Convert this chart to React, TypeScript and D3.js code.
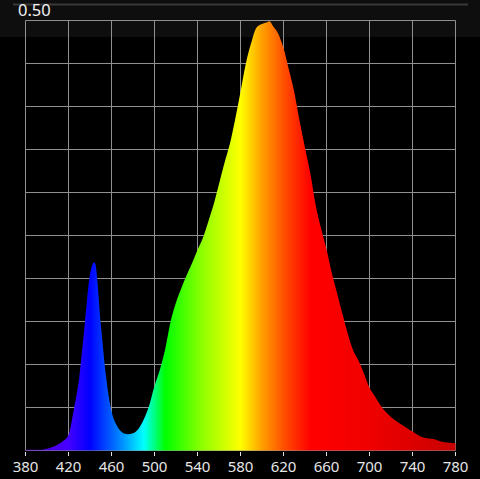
import { useEffect, useRef } from 'react';
import * as d3 from 'd3';

// spectral power distribution (nm -> relative value)
const wavelengths = [
  380, 385, 390, 395, 400, 405, 410, 415, 420, 425, 430, 435, 440, 444, 445,
  450, 455, 460, 465, 470, 475, 480, 485, 490, 495, 500, 505, 510, 515, 520,
  525, 530, 535, 540, 545, 550, 555, 560, 565, 570, 575, 580, 585, 590, 595,
  600, 605, 607, 610, 615, 620, 625, 630, 635, 640, 645, 650, 655, 660, 665,
  670, 675, 680, 685, 690, 695, 700, 705, 710, 715, 720, 725, 730, 735, 740,
  745, 750, 755, 760, 765, 770, 775, 780,
];
const power = [
  0.001, 0.001, 0.001, 0.001, 0.002, 0.004, 0.007, 0.011, 0.018, 0.048, 0.085,
  0.145, 0.205, 0.219, 0.217, 0.148, 0.085, 0.046, 0.029, 0.021, 0.019, 0.02,
  0.025, 0.036, 0.052, 0.075, 0.094, 0.118, 0.15, 0.172, 0.189, 0.204, 0.218,
  0.233, 0.247, 0.266, 0.286, 0.31, 0.334, 0.356, 0.385, 0.417, 0.45, 0.474,
  0.492, 0.496, 0.498, 0.499, 0.494, 0.485, 0.468, 0.443, 0.417, 0.383, 0.352,
  0.322, 0.285, 0.258, 0.234, 0.206, 0.182, 0.158, 0.135, 0.116, 0.104, 0.089,
  0.073, 0.063, 0.053, 0.045, 0.039, 0.034, 0.03, 0.026, 0.022, 0.018, 0.015,
  0.014, 0.0135, 0.011, 0.0095, 0.009, 0.0085,
];

const xTicks = [380, 420, 460, 500, 540, 580, 620, 660, 700, 740, 780];
const yTicks = [0, 0.05, 0.1, 0.15, 0.2, 0.25, 0.3, 0.35, 0.4, 0.45, 0.5];
const maxLabel = '0.50';

// colour of the fill along the spectrum
const colorStops = [
  { nm: 380, color: '#5a00c8' },
  { nm: 420, color: '#4400ff' },
  { nm: 440, color: '#0000ff' },
  { nm: 470, color: '#0090ff' },
  { nm: 490, color: '#00ffff' },
  { nm: 510, color: '#00ff00' },
  { nm: 545, color: '#90ff00' },
  { nm: 580, color: '#ffff00' },
  { nm: 600, color: '#ffa000' },
  { nm: 620, color: '#ff5000' },
  { nm: 645, color: '#ff0000' },
  { nm: 700, color: '#f00000' },
  { nm: 780, color: '#c80000' },
];

const W = 480;
const H = 479;

export default function App() {
  const svgRef = useRef<SVGSVGElement>(null);

  useEffect(() => {
    const svg = d3.select(svgRef.current);
    svg.selectAll('*').remove();

    const x = d3.scaleLinear().domain([380, 780]).range([25.5, 455.5]);
    const y = d3.scaleLinear().domain([0, 0.5]).range([450.5, 20.5]);
    const font = '"Noto Sans", sans-serif';

    svg.append('rect').attr('width', W).attr('height', H).attr('fill', '#000');

    // header band
    svg.append('rect').attr('width', W).attr('height', 37).attr('fill', '#0e0e0e');
    svg
      .append('line')
      .attr('x1', 13)
      .attr('x2', 468)
      .attr('y1', 4.5)
      .attr('y2', 4.5)
      .attr('stroke', '#383838')
      .attr('stroke-width', 2);

    svg
      .append('text')
      .attr('x', 18)
      .attr('y', 16)
      .attr('fill', '#f2f2f2')
      .style('font-family', font)
      .style('font-size', '16.5px')
      .text(maxLabel);

    // grid
    const grid = svg.append('g').attr('stroke', '#909090').attr('stroke-width', 1);
    grid
      .selectAll('line.v')
      .data(xTicks)
      .enter()
      .append('line')
      .attr('x1', (d) => x(d))
      .attr('x2', (d) => x(d))
      .attr('y1', y(0.5))
      .attr('y2', y(0));
    grid
      .selectAll('line.h')
      .data(yTicks)
      .enter()
      .append('line')
      .attr('x1', x(380))
      .attr('x2', x(780))
      .attr('y1', (d) => y(d))
      .attr('y2', (d) => y(d));

    // gradient
    const grad = svg
      .append('defs')
      .append('linearGradient')
      .attr('id', 'spectrum')
      .attr('gradientUnits', 'userSpaceOnUse')
      .attr('x1', x(380))
      .attr('x2', x(780))
      .attr('y1', 0)
      .attr('y2', 0);
    grad
      .selectAll('stop')
      .data(colorStops)
      .enter()
      .append('stop')
      .attr('offset', (d) => (d.nm - 380) / 400)
      .attr('stop-color', (d) => d.color);

    const data = wavelengths.map((nm, i) => ({ nm, v: power[i] }));
    const area = d3
      .area<{ nm: number; v: number }>()
      .x((d) => x(d.nm))
      .y0(y(0))
      .y1((d) => y(d.v))
      .curve(d3.curveMonotoneX);
    svg.append('path').datum(data).attr('d', area).attr('fill', 'url(#spectrum)');

    // bottom axis
    const axis = svg.append('g');
    axis
      .selectAll('line')
      .data(xTicks)
      .enter()
      .append('line')
      .attr('x1', (d) => x(d))
      .attr('x2', (d) => x(d))
      .attr('y1', 452)
      .attr('y2', 456)
      .attr('stroke', '#e0e0e0');
    axis
      .selectAll('text')
      .data(xTicks)
      .enter()
      .append('text')
      .attr('x', (d) => x(d))
      .attr('y', 471.5)
      .attr('text-anchor', 'middle')
      .attr('fill', '#e6e6e6')
      .style('font-family', font)
      .style('font-size', '15px')
      .text((d) => d);
  }, []);

  return (
    <div style={{ position: 'fixed', left: 0, top: 0 }}>
      <svg ref={svgRef} width={W} height={H} style={{ display: 'block' }} />
    </div>
  );
}
